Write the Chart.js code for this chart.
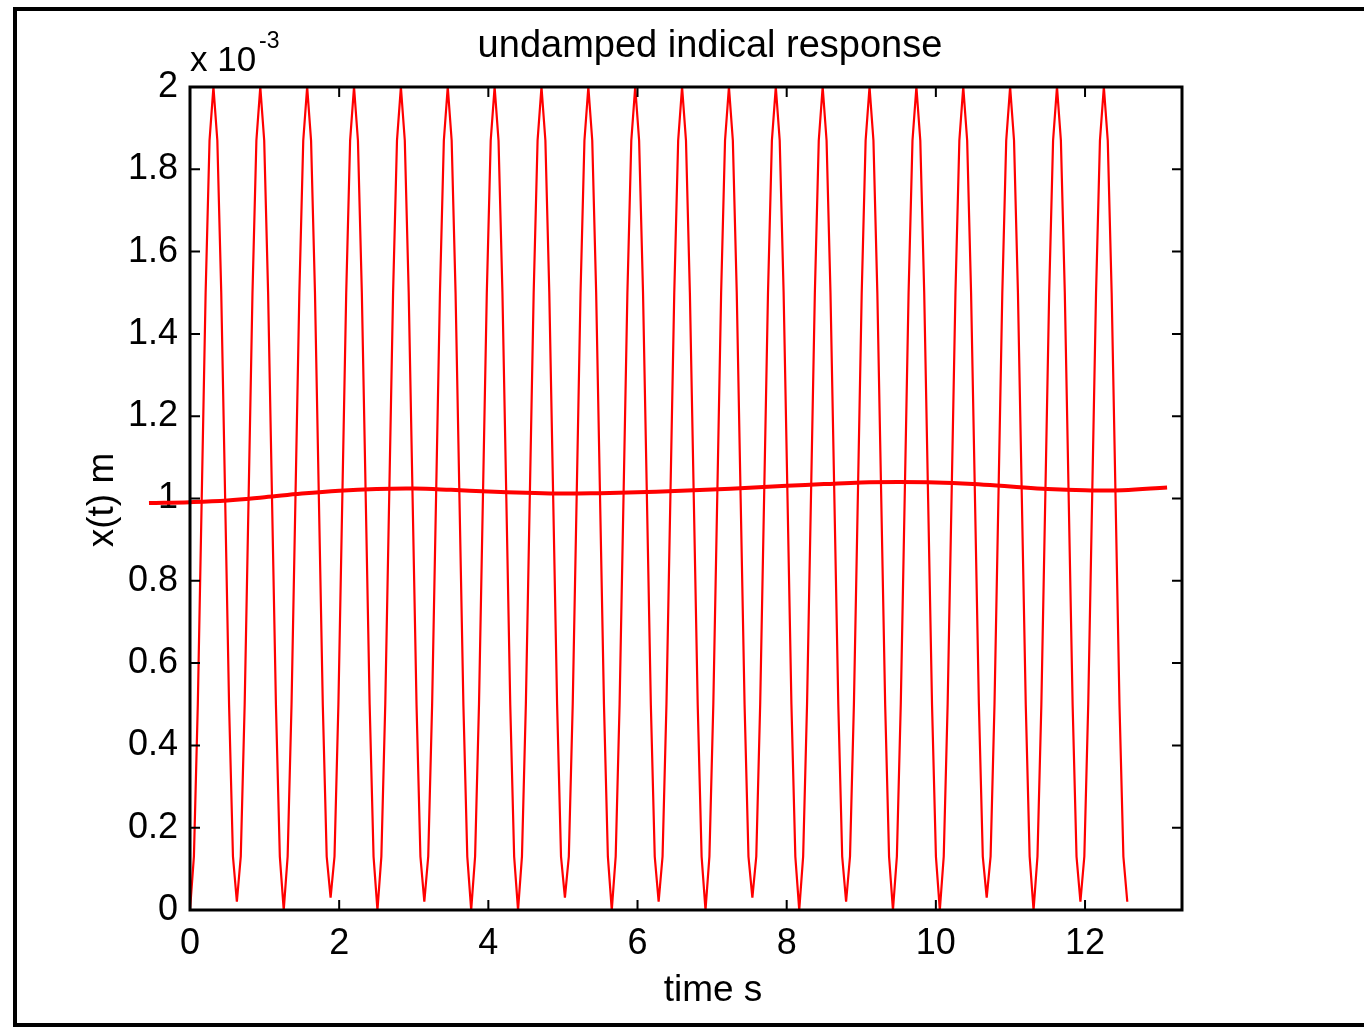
<!DOCTYPE html>
<html>
<head>
<meta charset="utf-8">
<script src="https://cdn.jsdelivr.net/npm/chart.js@4.4.1/dist/chart.umd.min.js"></script>
<style>
  html, body { margin: 0; padding: 0; background: #fff; }
</style>
</head>
<body>
<canvas id="response-chart" width="1364" height="1027"></canvas>
<script>
// values in units of 1e-3 m (axis carries the "x 10^-3" multiplier)

// fast oscillation, one row per cycle, sampled every thinStep seconds
const thinStep = 0.05236;
const thinDisp = [
    0,    0.13, 0.5, 1, 1.5, 1.87, 2, 1.87, 1.5, 1, 0.5, 0.13,
    0.02, 0.13, 0.5, 1, 1.5, 1.87, 2, 1.87, 1.5, 1, 0.5, 0.13,
    0,    0.13, 0.5, 1, 1.5, 1.87, 2, 1.87, 1.5, 1, 0.5, 0.13,
    0.03, 0.13, 0.5, 1, 1.5, 1.87, 2, 1.87, 1.5, 1, 0.5, 0.13,
    0,    0.13, 0.5, 1, 1.5, 1.87, 2, 1.87, 1.5, 1, 0.5, 0.13,
    0.02, 0.13, 0.5, 1, 1.5, 1.87, 2, 1.87, 1.5, 1, 0.5, 0.13,
    0,    0.13, 0.5, 1, 1.5, 1.87, 2, 1.87, 1.5, 1, 0.5, 0.13,
    0,    0.13, 0.5, 1, 1.5, 1.87, 2, 1.87, 1.5, 1, 0.5, 0.13,
    0.03, 0.13, 0.5, 1, 1.5, 1.87, 2, 1.87, 1.5, 1, 0.5, 0.13,
    0,    0.13, 0.5, 1, 1.5, 1.87, 2, 1.87, 1.5, 1, 0.5, 0.13,
    0.02, 0.13, 0.5, 1, 1.5, 1.87, 2, 1.87, 1.5, 1, 0.5, 0.13,
    0,    0.13, 0.5, 1, 1.5, 1.87, 2, 1.87, 1.5, 1, 0.5, 0.13,
    0.03, 0.13, 0.5, 1, 1.5, 1.87, 2, 1.87, 1.5, 1, 0.5, 0.13,
    0,    0.13, 0.5, 1, 1.5, 1.87, 2, 1.87, 1.5, 1, 0.5, 0.13,
    0.02, 0.13, 0.5, 1, 1.5, 1.87, 2, 1.87, 1.5, 1, 0.5, 0.13,
    0,    0.13, 0.5, 1, 1.5, 1.87, 2, 1.87, 1.5, 1, 0.5, 0.13,
    0,    0.13, 0.5, 1, 1.5, 1.87, 2, 1.87, 1.5, 1, 0.5, 0.13,
    0.03, 0.13, 0.5, 1, 1.5, 1.87, 2, 1.87, 1.5, 1, 0.5, 0.13,
    0,    0.13, 0.5, 1, 1.5, 1.87, 2, 1.87, 1.5, 1, 0.5, 0.13,
    0.02, 0.13, 0.5, 1, 1.5, 1.87, 2, 1.87, 1.5, 1, 0.5, 0.13,
    0.02
];

// slow curve near 1e-3
const thickTime = [-0.55, 0, 0.5, 1, 1.5, 2, 2.5, 3, 3.5, 4, 4.5, 5, 5.5, 6, 6.5,
    7, 7.5, 8, 8.5, 9, 9.5, 10, 10.5, 11, 11.5, 12, 12.5, 13.1];
const thickDisp = [0.989, 0.991, 0.995, 1.003, 1.012, 1.019, 1.023, 1.024, 1.021, 1.017,
    1.014, 1.012, 1.013, 1.015, 1.018, 1.022, 1.026, 1.031, 1.035, 1.039, 1.040, 1.039,
    1.035, 1.029, 1.023, 1.020, 1.020, 1.027];

const xTickValues = [0, 2, 4, 6, 8, 10, 12];
const xTickLabels = ['0', '2', '4', '6', '8', '10', '12'];
const yTickValues = [0, 0.2, 0.4, 0.6, 0.8, 1, 1.2, 1.4, 1.6, 1.8, 2];
const yTickLabels = ['0', '0.2', '0.4', '0.6', '0.8', '1', '1.2', '1.4', '1.6', '1.8', '2'];

//-------------------------------------------------//

const thinPoints = thinDisp.map((v, i) => ({ x: i * thinStep, y: v }));
const thickPoints = thickTime.map((t, i) => ({ x: t, y: thickDisp[i] }));

const FONT = "'Liberation Sans', Arial, Helvetica, sans-serif";

// MATLAB-ish axes box, inward ticks, labels and figure frame
const matlabAxes = {
    id: 'matlabAxes',
    beforeDraw(chart) {
        const ctx = chart.ctx;
        ctx.save();
        ctx.fillStyle = '#000';
        ctx.fillRect(13, 7, 4, 1020);
        ctx.fillRect(13, 7, 1351, 4);
        ctx.fillRect(13, 1023, 1351, 4);
        ctx.restore();
    },
    afterDraw(chart) {
        const { ctx, chartArea: a, scales } = chart;
        const x = scales.x, y = scales.y;
        ctx.save();
        ctx.strokeStyle = '#000';
        ctx.lineWidth = 2;
        ctx.beginPath();
        xTickValues.forEach(v => {
            const px = x.getPixelForValue(v);
            ctx.moveTo(px, a.bottom); ctx.lineTo(px, a.bottom - 10);
            ctx.moveTo(px, a.top); ctx.lineTo(px, a.top + 10);
        });
        yTickValues.forEach(v => {
            const py = y.getPixelForValue(v);
            ctx.moveTo(a.left, py); ctx.lineTo(a.left + 10, py);
            ctx.moveTo(a.right, py); ctx.lineTo(a.right - 10, py);
        });
        ctx.stroke();
        ctx.lineWidth = 3;
        ctx.strokeRect(a.left, a.top, a.right - a.left, a.bottom - a.top);

        ctx.fillStyle = '#000';
        ctx.textBaseline = 'alphabetic';
        ctx.textAlign = 'center';
        ctx.font = '38px ' + FONT;
        ctx.fillText('undamped indical response', 710, 57);
        ctx.font = '37px ' + FONT;
        ctx.fillText('time s', 713, 1001);

        ctx.textAlign = 'left';
        ctx.font = '35px ' + FONT;
        ctx.fillText('x 10', 190, 71);
        ctx.font = '23px ' + FONT;
        ctx.fillText('-3', 259, 48);

        ctx.translate(103, 500);
        ctx.rotate(-Math.PI / 2);
        ctx.textAlign = 'center';
        ctx.textBaseline = 'middle';
        ctx.font = '37px ' + FONT;
        ctx.fillText('x(t) m', 0, 0);
        ctx.restore();
    }
};

const ctx = document.getElementById('response-chart').getContext('2d');
const chart = new Chart(ctx, {
    type: 'scatter',
    data: {
        datasets: [{
            label: 'response',
            data: thinPoints,
            showLine: true,
            borderColor: '#ff0000',
            borderWidth: 2.2,
            pointRadius: 0,
            tension: 0
        }, {
            label: 'mean',
            data: thickPoints,
            showLine: true,
            borderColor: '#ff0000',
            borderWidth: 4,
            pointRadius: 0,
            tension: 0.4,
            clip: false
        }]
    },
    options: {
        responsive: false,
        animation: false,
        devicePixelRatio: 1,
        layout: { padding: { left: 0, top: 87, right: 182, bottom: 0 } },
        plugins: {
            legend: { display: false },
            tooltip: { enabled: false },
            title: { display: false }
        },
        scales: {
            x: {
                type: 'linear',
                min: 0,
                max: 13.3,
                afterBuildTicks: s => { s.ticks = xTickValues.map(v => ({ value: v })); },
                afterFit: s => { s.height = 117; },
                grid: { display: false, drawTicks: false },
                border: { display: false },
                ticks: {
                    color: '#000',
                    padding: 12,
                    maxRotation: 0,
                    autoSkip: false,
                    font: { family: FONT, size: 36 },
                    callback: (v, i) => xTickLabels[i]
                }
            },
            y: {
                type: 'linear',
                min: 0,
                max: 2,
                afterBuildTicks: s => { s.ticks = yTickValues.map(v => ({ value: v })); },
                afterFit: s => { s.width = 190; },
                grid: { display: false, drawTicks: false },
                border: { display: false },
                ticks: {
                    color: '#000',
                    padding: 12,
                    autoSkip: false,
                    font: { family: FONT, size: 36 },
                    callback: (v, i) => yTickLabels[i]
                }
            }
        }
    },
    plugins: [matlabAxes]
});
</script>
</body>
</html>
